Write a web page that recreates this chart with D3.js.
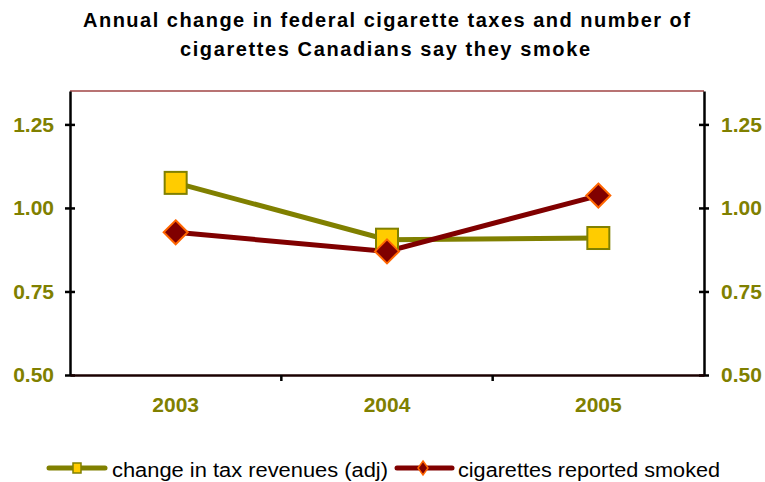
<!DOCTYPE html>
<html>
<head>
<meta charset="utf-8">
<script src="https://cdn.jsdelivr.net/npm/d3@7"></script>
<style>
  body { margin: 0; background: #fff; }
  text { font-family: Arial, "Liberation Sans", sans-serif; }
</style>
</head>
<body>
<div id="chart"></div>
<script>
// chart data
var years = ["2003", "2004", "2005"];
var taxRevenues = [1.075, 0.905, 0.91];
var cigarettesSmoked = [0.927, 0.87, 1.037];
var yTicks = [0.50, 0.75, 1.00, 1.25];
var seriesNames = ["change in tax revenues (adj)", "cigarettes reported smoked"];
var titleLines = ["Annual change in federal cigarette taxes and number of",
                  "cigarettes Canadians say they smoke"];

var width = 765, height = 482;
var margin = {top: 91, right: 61, bottom: 107, left: 70};
var olive = "#808000", maroon = "#800000";

var svg = d3.select("#chart").append("svg")
    .attr("width", width)
    .attr("height", height);

// title
svg.selectAll(".title")
    .data(titleLines)
    .enter().append("text")
    .attr("x", function (d, i) { return i === 0 ? 83 : 180; })
    .attr("y", function (d, i) { return 27 + i * 29; })
    .attr("textLength", function (d, i) { return i === 0 ? 607 : 410; })
    .attr("lengthAdjust", "spacing")
    .style("font-size", "20px").style("font-weight", "bold")
    .text(function (d) { return d; });

var x = d3.scaleBand()
    .domain(years)
    .range([margin.left, width - margin.right]);

var y = d3.scaleLinear()
    .domain([0.5, 1.35])
    .range([height - margin.bottom, margin.top]);

// top border
svg.append("line")
    .attr("x1", margin.left).attr("x2", width - margin.right)
    .attr("y1", margin.top).attr("y2", margin.top)
    .attr("stroke", "#a04545").attr("stroke-width", 1.5);

// left axis
var leftAxis = svg.append("g")
    .attr("transform", "translate(" + margin.left + ",0)")
    .call(d3.axisLeft(y).tickValues(yTicks).tickFormat(d3.format(".2f")).tickSizeInner(5).tickSizeOuter(0).tickPadding(11));

// right axis
var rightAxis = svg.append("g")
    .attr("transform", "translate(" + (width - margin.right) + ",0)")
    .call(d3.axisRight(y).tickValues(yTicks).tickFormat(d3.format(".2f")).tickSizeInner(5).tickSizeOuter(0).tickPadding(12));

[leftAxis, rightAxis].forEach(function (g) {
    g.select(".domain").attr("stroke", "#000").attr("stroke-width", 2.5);
    g.selectAll(".tick line")
        .attr("stroke", "#000").attr("stroke-width", 2.5)
        .attr("x1", -5).attr("x2", 5);
    g.selectAll(".tick text")
        .attr("fill", olive)
        .style("font-size", "21px").style("font-weight", "bold");
});

// bottom axis
var bottomAxis = svg.append("g")
    .attr("transform", "translate(0," + y(0.5) + ")")
    .call(d3.axisBottom(x).tickSize(0).tickPadding(22));
bottomAxis.select(".domain").attr("stroke", "#1a0000").attr("stroke-width", 2.5);
bottomAxis.selectAll(".tick text")
    .attr("fill", olive)
    .style("font-size", "21px").style("font-weight", "bold");

// ticks between categories
bottomAxis.selectAll(".sep")
    .data(years.slice(1))
    .enter().append("line")
    .attr("x1", function (d) { return x(d); })
    .attr("x2", function (d) { return x(d); })
    .attr("y1", 0).attr("y2", 6)
    .attr("stroke", "#000").attr("stroke-width", 2.5);

var cx = function (d, i) { return x(years[i]) + x.bandwidth() / 2; };

var line = d3.line()
    .x(function (d, i) { return cx(d, i); })
    .y(function (d) { return y(d); });

svg.append("path")
    .datum(taxRevenues)
    .attr("d", line)
    .attr("fill", "none")
    .attr("stroke", olive)
    .attr("stroke-width", 5);

svg.append("path")
    .datum(cigarettesSmoked)
    .attr("d", line)
    .attr("fill", "none")
    .attr("stroke", maroon)
    .attr("stroke-width", 5);

// square markers
svg.selectAll(".sq")
    .data(taxRevenues)
    .enter().append("rect")
    .attr("x", function (d, i) { return cx(d, i) - 11; })
    .attr("y", function (d) { return y(d) - 11; })
    .attr("width", 22).attr("height", 22)
    .attr("fill", "#ffcc00")
    .attr("stroke", olive)
    .attr("stroke-width", 2);

// diamond markers
var diamond = "M0,-12L12,0L0,12L-12,0Z";
svg.selectAll(".dm")
    .data(cigarettesSmoked)
    .enter().append("path")
    .attr("d", diamond)
    .attr("transform", function (d, i) { return "translate(" + cx(d, i) + "," + y(d) + ")"; })
    .attr("fill", maroon)
    .attr("stroke", "#ff6600")
    .attr("stroke-width", 2);

// legend
var legend = svg.append("g").attr("transform", "translate(0,468)");

legend.append("line")
    .attr("x1", 49).attr("x2", 105).attr("y1", 0).attr("y2", 0)
    .attr("stroke", olive).attr("stroke-width", 5).attr("stroke-linecap", "round");
legend.append("rect")
    .attr("x", 73).attr("y", -5).attr("width", 8).attr("height", 10)
    .attr("fill", "#ffcc00").attr("stroke", olive).attr("stroke-width", 1.5);
legend.append("text")
    .attr("x", 112).attr("y", 9)
    .style("font-size", "20px")
    .attr("textLength", 276).attr("lengthAdjust", "spacingAndGlyphs")
    .text(seriesNames[0]);

legend.append("line")
    .attr("x1", 397).attr("x2", 452).attr("y1", 0).attr("y2", 0)
    .attr("stroke", maroon).attr("stroke-width", 5).attr("stroke-linecap", "round");
legend.append("path")
    .attr("d", "M0,-7L5,0L0,7L-5,0Z")
    .attr("transform", "translate(423,0)")
    .attr("fill", maroon).attr("stroke", "#ff6600").attr("stroke-width", 1.5);
legend.append("text")
    .attr("x", 458).attr("y", 9)
    .style("font-size", "20px")
    .attr("textLength", 262).attr("lengthAdjust", "spacingAndGlyphs")
    .text(seriesNames[1]);
</script>
</body>
</html>
